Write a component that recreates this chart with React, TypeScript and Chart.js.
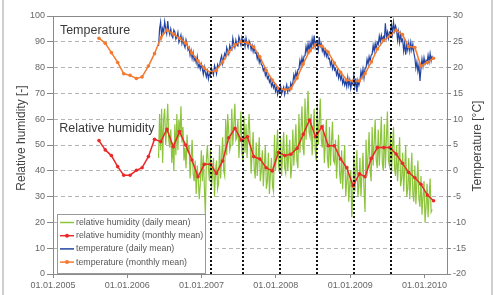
import React, { useEffect, useRef } from 'react';
import { Chart, registerables } from 'chart.js';
Chart.register(...registerables);

// ---------- data ----------
const xTickLabels = ['01.01.2005', '01.01.2006', '01.01.2007', '01.01.2008', '01.01.2009', '01.01.2010'];
const xAxisEnd = '22.04.2010';
const leftTicks = [0, 10, 20, 30, 40, 50, 60, 70, 80, 90, 100];
const rightTicks = [-20, -15, -10, -5, 0, 5, 10, 15, 20, 25, 30];
const periodMarkers = ['16.02.2007', '23.07.2007', '23.01.2008', '24.07.2008', '22.01.2009', '23.07.2009'];

// monthly means, first month = August 2005
const monthlyStart = '08.2005';
const tempMonthly = [
  25.7, 24.7, 22.9, 21.0, 18.8,
  18.5, 17.9, 18.2, 20.3, 22.7, 25.8, 27.3, 26.5, 25.7, 24.8, 22.8, 21.3,
  19.9, 19.0, 19.5, 21.1, 23.0, 24.4, 25.0, 24.8, 24.0, 22.1, 19.5, 17.6,
  16.0, 15.7, 15.9, 18.0, 20.7, 23.2, 24.4, 24.2, 23.0, 20.9, 19.1, 17.6,
  17.4, 17.4, 18.8, 21.1, 23.6, 25.3, 26.1, 27.3, 26.4, 24.1, 23.9, 20.3,
  21.0, 21.8,
];
const humMonthly = [
  51.7, 48.1, 45.9, 41.6, 38.3,
  38.3, 40.2, 41.2, 45.5, 52.2, 51.3, 56.1, 49.3, 55.2, 50.0, 44.2, 37.7,
  42.5, 42.5, 39.0, 43.8, 52.8, 56.5, 51.9, 53.2, 45.5, 44.6, 41.2, 39.9,
  47.2, 45.9, 46.4, 48.7, 54.1, 59.7, 53.2, 57.1, 49.7, 49.7, 44.6, 41.2,
  34.2, 38.8, 37.7, 44.8, 49.0, 49.0, 49.0, 46.5, 42.9, 39.4, 37.3, 34.8,
  30.6, 28.4,
];

// daily means, sampled every 5 days from 04.06.2006
const dailyStart = '04.06.2006';
const dailyStepDays = 5;
const tempDaily = [
  24.2, 27.5, 28.8, 26.1, 27.6, 26.9,
  28.9, 27.6, 26.6, 29.0, 27.2, 26.4,
  27.5, 26.2, 25.8, 27.3, 26.9, 25.5,
  25.9, 26.8, 24.9, 25.5, 26.3, 24.7,
  25.7, 24.5, 23.9, 25.4, 24.6, 23.4,
  23.9, 22.4, 23.3, 21.8, 22.9, 21.4,
  21.9, 20.9, 22.1, 20.1, 20.6, 19.7,
  20.7, 19.8, 18.7, 20.1, 19.0, 18.2,
  19.3, 17.8, 18.9, 18.4, 19.9, 19.2,
  18.6, 20.4, 19.7, 18.8, 20.6, 20.1,
  20.4, 21.6, 22.3, 20.8, 21.9, 22.7,
  22.0, 23.9, 23.2, 22.6, 24.3, 23.6,
  23.4, 25.7, 24.6, 23.9, 25.3, 24.4,
  24.2, 26.0, 25.3, 24.4, 25.8, 24.9,
  25.4, 24.1, 25.7, 24.6, 23.9, 25.2,
  24.7, 23.5, 24.3, 23.1, 24.0, 22.8,
  22.9, 21.7, 22.5, 21.0, 21.8, 20.6,
  20.4, 19.4, 19.9, 18.5, 19.1, 17.9,
  18.3, 17.2, 17.7, 16.4, 17.0, 16.1,
  16.8, 15.4, 16.3, 14.8, 15.7, 15.2,
  16.4, 14.9, 15.6, 16.2, 14.8, 15.9,
  16.7, 15.3, 16.1, 15.6, 17.0, 16.3,
  17.0, 18.6, 17.8, 19.1, 18.2, 19.6,
  19.7, 21.4, 20.5, 21.9, 20.8, 22.2,
  22.3, 24.1, 23.0, 24.6, 23.3, 24.8,
  23.7, 25.6, 24.3, 26.2, 24.0, 25.1,
  25.0, 23.5, 25.9, 24.1, 24.6, 23.2,
  23.8, 22.5, 23.4, 22.2, 23.0, 21.7,
  21.8, 20.5, 21.2, 19.8, 20.7, 19.5,
  19.8, 18.6, 19.4, 18.0, 19.0, 17.7,
  18.4, 16.9, 17.7, 16.6, 17.4, 16.3,
  18.1, 16.5, 17.6, 16.0, 17.3, 16.8,
  18.4, 16.3, 17.9, 15.3, 17.5, 16.6,
  17.5, 19.3, 18.2, 19.7, 18.0, 19.8,
  20.0, 21.6, 20.7, 22.1, 21.2, 22.4,
  22.6, 24.3, 23.2, 24.7, 23.5, 24.9,
  24.5, 26.1, 25.0, 26.3, 25.2, 26.0,
  25.5, 28.6, 25.9, 26.9, 25.7, 26.9,
  26.8, 28.3, 26.6, 28.8, 27.1, 28.1,
  27.4, 25.3, 26.9, 24.9, 26.5, 25.1,
  25.5, 23.2, 24.8, 22.5, 24.4, 23.4,
  24.8, 23.2, 24.9, 23.4, 24.5, 22.9,
  21.9, 19.9, 21.1, 19.3, 20.5, 17.4,
  19.8, 21.7, 20.3, 21.9, 20.7, 21.4,
  20.9, 22.4, 21.1, 22.7, 21.3, 22.3,
];
const humDaily = [
  45, 62, 48, 64, 43, 60,
  64, 50, 57, 66, 52, 49,
  56, 43, 51, 40, 58, 46,
  62, 48, 60, 53, 65, 51,
  57, 44, 49, 41, 54, 47,
  50, 37, 45, 52, 39, 36,
  44, 31, 42, 37, 29, 35,
  48, 36, 46, 34, 23, 44,
  50, 41, 36, 48, 33, 39,
  45, 30, 40, 44, 33, 35,
  50, 37, 45, 53, 40, 38,
  60, 46, 62, 55, 48, 50,
  64, 50, 58, 66, 52, 53,
  60, 45, 53, 63, 47, 44,
  61, 47, 58, 45, 55, 62,
  52, 39, 47, 55, 41, 37,
  51, 38, 45, 53, 36, 40,
  48, 34, 42, 50, 33, 36,
  47, 31, 39, 45, 34, 32,
  54, 40, 48, 56, 42, 39,
  53, 38, 47, 55, 41, 39,
  54, 40, 46, 52, 37, 42,
  56, 42, 50, 58, 44, 41,
  62, 47, 56, 65, 49, 46,
  68, 52, 61, 71, 55, 53,
  62, 46, 55, 64, 48, 44,
  65, 50, 59, 68, 52, 49,
  58, 43, 51, 60, 45, 41,
  57, 42, 51, 59, 44, 43,
  52, 37, 46, 54, 39, 35,
  48, 33, 42, 50, 30, 36,
  42, 28, 35, 40, 22, 31,
  46, 32, 40, 48, 30, 34,
  45, 30, 39, 47, 33, 24,
  52, 38, 46, 55, 40, 36,
  57, 42, 51, 60, 44, 41,
  56, 42, 50, 61, 43, 40,
  58, 41, 52, 63, 44, 42,
  55, 39, 49, 57, 41, 38,
  50, 36, 44, 53, 34, 37,
  47, 32, 41, 50, 30, 33,
  45, 29, 38, 47, 31, 28,
  42, 27, 36, 44, 29, 26,
  38, 23, 30, 36, 20, 26,
  35, 22, 30, 37, 24, 25,
];

const annotations = [
  { text: 'Temperature', date: '04.02.2005', value: 92.9 },
  { text: 'Relative humidity', date: '01.02.2005', value: 55.2 },
];

const legendItems = [
  { text: 'relative humidity (daily mean)', color: '#8cc43c', marker: false },
  { text: 'relative humidity (monthly mean)', color: '#ea2a2a', marker: true },
  { text: 'temperature (daily mean)', color: '#2344a0', marker: false },
  { text: 'temperature (monthly mean)', color: '#f47a2e', marker: true },
];
const leftTitle = 'Relative humidity [-]';
const rightTitle = 'Temperature [°C]';

// ---------- helpers ----------
const ORIGIN = Date.UTC(2005, 0, 1);
const DAY_MS = 86400000;
const parseDate = (s: string) => {
  const [d, m, y] = s.split('.').map(Number);
  return (Date.UTC(y, m - 1, d) - ORIGIN) / DAY_MS;
};
const monthMid = (start: string, i: number) => {
  const [m, y] = start.split('.').map(Number);
  return (Date.UTC(y, m - 1 + i, 15) - ORIGIN) / DAY_MS;
};
const xTickDays = xTickLabels.map(parseDate);
const FONT = "'Liberation Sans', Arial, sans-serif";

export default function App() {
  const ref = useRef<HTMLCanvasElement | null>(null);
  useEffect(() => {
    document.body.style.margin = '0';
    const canvas = ref.current!;
    const dailyStartDay = parseDate(dailyStart);
    const toDaily = (arr: number[]) => arr.map((v, i) => ({ x: dailyStartDay + i * dailyStepDays, y: v }));
    const toMonthly = (arr: number[]) => arr.map((v, i) => ({ x: monthMid(monthlyStart, i), y: v }));

    const drawVertical = (ctx: any, text: string, x: number, y: number) => {
      ctx.save();
      ctx.translate(x, y);
      ctx.rotate(-Math.PI / 2);
      ctx.fillStyle = '#444';
      ctx.font = `12px ${FONT}`;
      ctx.textAlign = 'center';
      ctx.textBaseline = 'middle';
      ctx.fillText(text, 0, 0);
      ctx.restore();
    };

    const decor = {
      id: 'decor',
      beforeDraw(chart: any) {
        const { ctx, width, height } = chart;
        ctx.save();
        ctx.fillStyle = '#ffffff';
        ctx.fillRect(0, 0, width, height);
        ctx.strokeStyle = '#cfcfcf';
        ctx.lineWidth = 2;
        ctx.beginPath();
        ctx.moveTo(3, 0); ctx.lineTo(3, height);
        ctx.moveTo(492, 0); ctx.lineTo(492, height);
        ctx.stroke();
        ctx.restore();
      },
      afterDatasetsDraw(chart: any) {
        const { ctx, chartArea: ca, scales } = chart;
        ctx.save();
        // period markers
        ctx.strokeStyle = '#111';
        ctx.lineWidth = 2;
        ctx.setLineDash([2, 2]);
        periodMarkers.forEach((d) => {
          const x = Math.round(scales.x.getPixelForValue(parseDate(d)));
          ctx.beginPath();
          ctx.moveTo(x, ca.top);
          ctx.lineTo(x, ca.bottom);
          ctx.stroke();
        });
        ctx.setLineDash([]);
        // frame
        ctx.strokeStyle = '#8a8a8a';
        ctx.lineWidth = 1;
        ctx.strokeRect(Math.round(ca.left) + 0.5, Math.round(ca.top) + 0.5, Math.round(ca.right - ca.left), Math.round(ca.bottom - ca.top));
        // annotations
        ctx.fillStyle = '#3a3a3a';
        ctx.font = `12.5px ${FONT}`;
        ctx.textBaseline = 'alphabetic';
        annotations.forEach((a) => {
          ctx.fillText(a.text, scales.x.getPixelForValue(parseDate(a.date)), scales.y.getPixelForValue(a.value));
        });
        // axis titles (read bottom to top)
        const mid = (ca.top + ca.bottom) / 2;
        drawVertical(ctx, leftTitle, 22, mid - 7);
        drawVertical(ctx, rightTitle, 478, mid + 1);
        // legend
        const bx = 57, by = 214, bw = 148, bh = 59;
        ctx.fillStyle = '#ffffff';
        ctx.fillRect(bx, by, bw, bh);
        ctx.strokeStyle = '#9a9a9a';
        ctx.strokeRect(bx + 0.5, by + 0.5, bw, bh);
        ctx.font = `8.8px ${FONT}`;
        ctx.textBaseline = 'middle';
        legendItems.forEach((it, i) => {
          const y = by + 8.5 + i * 13.2;
          ctx.strokeStyle = it.color;
          ctx.lineWidth = 1.5;
          ctx.beginPath();
          ctx.moveTo(60, y);
          ctx.lineTo(74, y);
          ctx.stroke();
          if (it.marker) {
            ctx.fillStyle = it.color;
            ctx.beginPath();
            ctx.arc(67, y, 2, 0, Math.PI * 2);
            ctx.fill();
          }
          ctx.fillStyle = '#555';
          ctx.fillText(it.text, 76, y);
        });
        ctx.restore();
      },
    };

    const tickFont = { family: FONT, size: 9 };
    const chart = new Chart(canvas, {
      type: 'line',
      data: {
        datasets: [
          { label: 'temperature (monthly mean)', data: toMonthly(tempMonthly), yAxisID: 'y2', borderColor: '#f47a2e', backgroundColor: '#f47a2e', borderWidth: 1.5, pointRadius: 1.8, pointBorderWidth: 0, pointBackgroundColor: '#f47a2e' },
          { label: 'relative humidity (monthly mean)', data: toMonthly(humMonthly), yAxisID: 'y', borderColor: '#ea2a2a', backgroundColor: '#ea2a2a', borderWidth: 1.5, pointRadius: 1.8, pointBorderWidth: 0, pointBackgroundColor: '#ea2a2a' },
          { label: 'temperature (daily mean)', data: toDaily(tempDaily), yAxisID: 'y2', borderColor: '#2344a0', borderWidth: 1.2, pointRadius: 0 },
          { label: 'relative humidity (daily mean)', data: toDaily(humDaily), yAxisID: 'y', borderColor: '#8cc43c', borderWidth: 1.2, pointRadius: 0 },
        ],
      },
      options: {
        animation: false,
        responsive: false,
        devicePixelRatio: 1,
        layout: { padding: { top: 16, left: 0, right: 0, bottom: 0 } },
        plugins: { legend: { display: false }, tooltip: { enabled: false } },
        elements: { line: { tension: 0 } },
        scales: {
          x: {
            type: 'linear',
            min: 0,
            max: parseDate(xAxisEnd),
            afterBuildTicks: (s: any) => { s.ticks = xTickDays.map((v) => ({ value: v })); },
            afterFit: (s: any) => { s.height = 21; },
            ticks: {
              autoSkip: false, maxRotation: 0, padding: 2, color: '#666', font: tickFont,
              callback: (v: any) => xTickLabels[xTickDays.indexOf(v)] ?? '',
            },
            grid: { drawOnChartArea: false, tickLength: 4, color: '#888' },
            border: { color: '#888' },
          },
          y: {
            position: 'left',
            min: 0, max: 100,
            afterBuildTicks: (s: any) => { s.ticks = leftTicks.map((v) => ({ value: v })); },
            afterFit: (s: any) => { s.width = 53; },
            ticks: { color: '#666', font: tickFont, padding: 2 },
            grid: { color: '#b4b4b4', tickLength: 6, tickColor: '#888', tickBorderDash: [1, 0] },
            border: { color: '#888', dash: [4, 3] },
          },
          y2: {
            position: 'right',
            min: -20, max: 30,
            afterBuildTicks: (s: any) => { s.ticks = rightTicks.map((v) => ({ value: v })); },
            afterFit: (s: any) => { s.width = 47; },
            ticks: { color: '#666', font: tickFont, padding: 2 },
            grid: { drawOnChartArea: false, tickLength: 4, color: '#888' },
            border: { color: '#888' },
          },
        },
      },
      plugins: [decor],
    } as any);
    return () => chart.destroy();
  }, []);
  return (
    <div style={{ position: 'relative', width: 494, height: 295 }}>
      <canvas ref={ref} width={494} height={295} style={{ display: 'block', width: 494, height: 295 }} />
    </div>
  );
}
